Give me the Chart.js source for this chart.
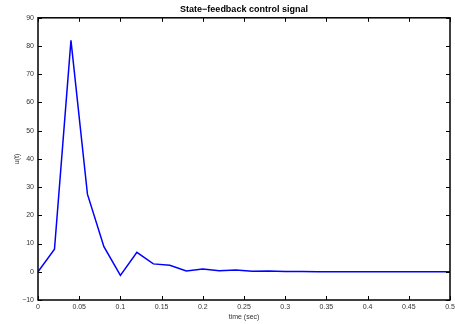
<!DOCTYPE html>
<html><head><meta charset="utf-8">
<script src="https://cdn.jsdelivr.net/npm/chart.js@4/dist/chart.umd.min.js"></script>
<style>html,body{margin:0;padding:0;background:#fff}#w{width:455px;height:324px}</style>
</head><body><div id="w"><canvas id="c"></canvas></div>
<script>
const times = [0,0.02,0.04,0.06,0.08,0.10,0.12,0.14,0.16,0.18,0.20,0.22,0.24,0.26,0.28,0.30,0.32,0.34,0.36,0.38,0.40,0.42,0.44,0.46,0.48,0.50];
const uValues = [0,8.0,82.0,27.5,8.9,-1.3,6.9,2.8,2.3,0.3,1.0,0.4,0.6,0.2,0.3,0.08,0.12,0.04,0.05,0.02,0.02,0.01,0.01,0,0,0];
const xTicks = [0,0.05,0.1,0.15,0.2,0.25,0.3,0.35,0.4,0.45,0.5];
const yTicks = [-10,0,10,20,30,40,50,60,70,80,90];
const titleText = 'State\u2212feedback control signal';
const xLabel = 'time (sec)';
const yLabel = 'u(t)';

const FONT = 'Liberation Sans, Arial, Helvetica, sans-serif';
const innerTicks = {
  id:'innerTicks',
  afterDraw(chart){
    const {ctx, chartArea:a, scales} = chart;
    ctx.save();
    ctx.strokeStyle = '#000'; ctx.lineWidth = 1;
    ctx.beginPath();
    scales.x.ticks.forEach(t=>{
      const px = Math.round(scales.x.getPixelForValue(t.value))+0.5;
      ctx.moveTo(px,a.bottom); ctx.lineTo(px,a.bottom-4);
      ctx.moveTo(px,a.top); ctx.lineTo(px,a.top+4);
    });
    scales.y.ticks.forEach(t=>{
      const py = Math.round(scales.y.getPixelForValue(t.value))+0.5;
      ctx.moveTo(a.left,py); ctx.lineTo(a.left+4,py);
      ctx.moveTo(a.right,py); ctx.lineTo(a.right-4,py);
    });
    ctx.stroke();
    ctx.lineWidth = 1.5;
    ctx.strokeRect(a.left, a.top, a.right-a.left, a.bottom-a.top);
    ctx.restore();
  }
};

new Chart(document.getElementById('c'), {
  type:'line',
  data:{ datasets:[{ data: times.map((t,i)=>({x:t,y:uValues[i]})), borderColor:'#0000ff', borderWidth:1.5, pointRadius:0, tension:0, fill:false }] },
  options:{
    responsive:true, maintainAspectRatio:false, animation:false,
    layout:{ padding:{ left:0, right:5, top:0, bottom:0 } },
    plugins:{
      legend:{display:false}, tooltip:{enabled:false},
      title:{ display:true, text:titleText, fullSize:false, color:'#000', font:{family:FONT, size:9, weight:'bold'}, padding:{top:4, bottom:3} }
    },
    scales:{
      x:{ type:'linear', min:0, max:0.5,
        afterBuildTicks(s){ s.ticks = xTicks.map(v=>({value:v})); },
        afterFit(s){ s.height = 24; s.paddingRight = 0; },
        grid:{display:false, drawTicks:false}, border:{display:false},
        ticks:{ padding:3, color:'#333', font:{family:FONT, size:7}, maxRotation:0, autoSkip:false, callback:v=>String(+v.toFixed(2)) },
        title:{ display:true, text:xLabel, color:'#333', font:{family:FONT, size:7}, padding:{top:0,bottom:3} } },
      y:{ type:'linear', min:-10, max:90,
        afterBuildTicks(s){ s.ticks = yTicks.map(v=>({value:v})); },
        afterFit(s){ s.width = 38; },
        grid:{display:false, drawTicks:false}, border:{display:false},
        ticks:{ padding:4, color:'#333', font:{family:FONT, size:7}, autoSkip:false, callback:v=>String(v).replace('-', '\u2212') },
        title:{ display:true, text:yLabel, color:'#333', font:{family:FONT, size:7}, padding:{top:13,bottom:0} } }
    }
  },
  plugins:[innerTicks]
});
</script></body></html>
